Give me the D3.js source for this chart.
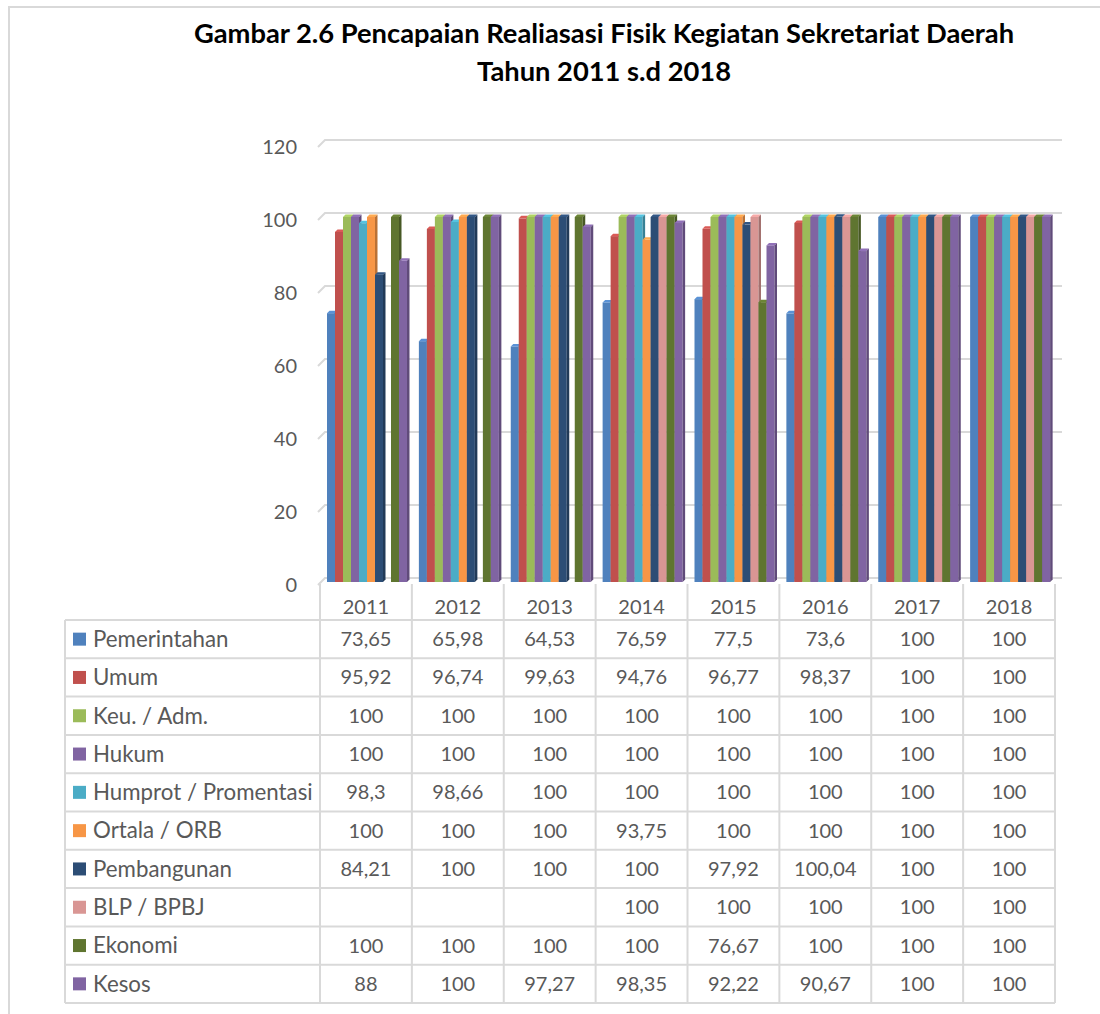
<!DOCTYPE html>
<html>
<head>
<meta charset="utf-8">
<script src="https://cdn.jsdelivr.net/npm/d3@7"></script>
<style>
  html, body { margin: 0; padding: 0; background: #fff; }
  svg { display: block; }
  text { font-family: Lato, "Open Sans", sans-serif; }
</style>
</head>
<body>
<svg id="chart" width="1100" height="1014"></svg>
<script>
// ---------- DATA ----------
const years = ["2011", "2012", "2013", "2014", "2015", "2016", "2017", "2018"];
const yTicks = [0, 20, 40, 60, 80, 100, 120];
const seriesNames = ["Pemerintahan", "Umum", "Keu. / Adm.", "Hukum", "Humprot / Promentasi",
                     "Ortala / ORB", "Pembangunan", "BLP / BPBJ", "Ekonomi", "Kesos"];
const pemerintahan = [73.65, 65.98, 64.53, 76.59, 77.5, 73.6, 100, 100];
const umum         = [95.92, 96.74, 99.63, 94.76, 96.77, 98.37, 100, 100];
const keuAdm       = [100, 100, 100, 100, 100, 100, 100, 100];
const hukum        = [100, 100, 100, 100, 100, 100, 100, 100];
const humprot      = [98.3, 98.66, 100, 100, 100, 100, 100, 100];
const ortala       = [100, 100, 100, 93.75, 100, 100, 100, 100];
const pembangunan  = [84.21, 100, 100, 100, 97.92, 100.04, 100, 100];
const blpBpbj      = [null, null, null, 100, 100, 100, 100, 100];
const ekonomi      = [100, 100, 100, 100, 76.67, 100, 100, 100];
const kesos        = [88, 100, 97.27, 98.35, 92.22, 90.67, 100, 100];
const seriesColors = ["#4F81BD", "#C0504D", "#9BBB59", "#8064A2", "#4BACC6",
                      "#F79646", "#2C4D75", "#D99694", "#5F7530", "#8064A2"];

const seriesValues = [pemerintahan, umum, keuAdm, hukum, humprot, ortala, pembangunan, blpBpbj, ekonomi, kesos];
const series = seriesNames.map((name, i) => ({ name, values: seriesValues[i], color: seriesColors[i] }));

// ---------- LAYOUT ----------
const svg = d3.select("#chart");
const grid = "#d9d9d9";
const textCol = "#595959";

// outer chart border
svg.append("path").attr("d", "M9,1014 V7 H1100").attr("fill", "none").attr("stroke", grid).attr("stroke-width", 2);

// title
svg.append("text").attr("x", 604).attr("y", 43).attr("text-anchor", "middle")
  .attr("font-size", 27.3).attr("font-weight", 700).attr("fill", "#000")
  .text("Gambar 2.6 Pencapaian Realiasasi Fisik Kegiatan Sekretariat Daerah");
svg.append("text").attr("x", 604).attr("y", 81).attr("text-anchor", "middle")
  .attr("font-size", 27.3).attr("font-weight", 700).attr("fill", "#000")
  .text("Tahun 2011 s.d 2018");

const x = d3.scaleBand().domain(years).range([320, 1055]).paddingInner(0).paddingOuter(0);
const x1 = d3.scaleBand().domain(seriesNames).range([7, 87]).padding(0);
const y = d3.scaleLinear().domain([0, 120]).range([582, 144]);

const back = 4, front = 3, wallDx = 7;

// gridlines (back wall) with 3D corner
const gl = svg.append("g");
yTicks.forEach(t => {
  const yb = y(t) - back, yf = y(t) + front;
  gl.append("path")
    .attr("d", `M318,${yf} L${318 + wallDx},${yb} H1062`)
    .attr("fill", "none").attr("stroke", grid).attr("stroke-width", 2);
});

// y axis labels
svg.append("g").selectAll("text").data(yTicks).join("text")
  .attr("x", 297).attr("y", d => y(d) + front).attr("dy", "0.35em")
  .attr("text-anchor", "end").attr("font-size", 20).attr("fill", textCol)
  .text(d => d);

// bars (3D)
const d3depth = 2.5;
const barsG = svg.append("g");
years.forEach((yr, yi) => {
  series.forEach(s => {
    const v = s.values[yi];
    if (v == null) return;
    const x0 = x(yr) + x1(s.name), w = x1.bandwidth();
    const top = y(v), bot = y(0), d = d3depth;
    const c = d3.color(s.color);
    barsG.append("rect").attr("x", x0).attr("y", top).attr("width", w).attr("height", bot - top)
      .attr("fill", s.color);
    barsG.append("path")
      .attr("d", `M${x0},${top} L${x0 + d},${top - d} H${x0 + w + d} L${x0 + w},${top} Z`)
      .attr("fill", c.brighter(0.35).formatHex());
    barsG.append("path")
      .attr("d", `M${x0 + w},${top} L${x0 + w + d},${top - d} V${bot - d} L${x0 + w},${bot} Z`)
      .attr("fill", c.darker(0.8).formatHex());
  });
});

// data table
const tableTop = 620, rowH = 38.3, tableLeft = 65;
const tableBottom = tableTop + rowH * series.length;
const tg = svg.append("g");
// horizontal lines
d3.range(series.length + 1).forEach(i => {
  tg.append("line").attr("x1", tableLeft).attr("x2", 1055)
    .attr("y1", tableTop + i * rowH).attr("y2", tableTop + i * rowH)
    .attr("stroke", grid).attr("stroke-width", 2);
});
// vertical lines
tg.append("line").attr("x1", tableLeft).attr("x2", tableLeft).attr("y1", tableTop).attr("y2", tableBottom)
  .attr("stroke", grid).attr("stroke-width", 2);
years.concat(["end"]).forEach((yr, i) => {
  const xx = yr === "end" ? x.range()[1] : x(yr);
  tg.append("line").attr("x1", xx).attr("x2", xx).attr("y1", 584).attr("y2", tableBottom)
    .attr("stroke", grid).attr("stroke-width", 2);
});
// category labels
tg.selectAll("text.cat").data(years).join("text").attr("class", "cat")
  .attr("x", d => x(d) + x.bandwidth() / 2).attr("y", 607).attr("dy", "0.35em")
  .attr("text-anchor", "middle").attr("font-size", 20).attr("fill", textCol).text(d => d);

const fmt = v => v == null ? "" : String(v).replace(".", ",");
series.forEach((s, i) => {
  const cy = tableTop + i * rowH + rowH / 2;
  tg.append("rect").attr("x", 73).attr("y", cy - 6.5).attr("width", 13).attr("height", 13).attr("fill", s.color);
  tg.append("text").attr("x", 93).attr("y", cy).attr("dy", "0.35em")
    .attr("font-size", 22.3).attr("fill", textCol).text(s.name);
  years.forEach((yr, yi) => {
    tg.append("text").attr("x", x(yr) + x.bandwidth() / 2).attr("y", cy).attr("dy", "0.35em")
      .attr("text-anchor", "middle").attr("font-size", 20).attr("fill", textCol)
      .text(fmt(s.values[yi]));
  });
});
</script>
</body>
</html>
